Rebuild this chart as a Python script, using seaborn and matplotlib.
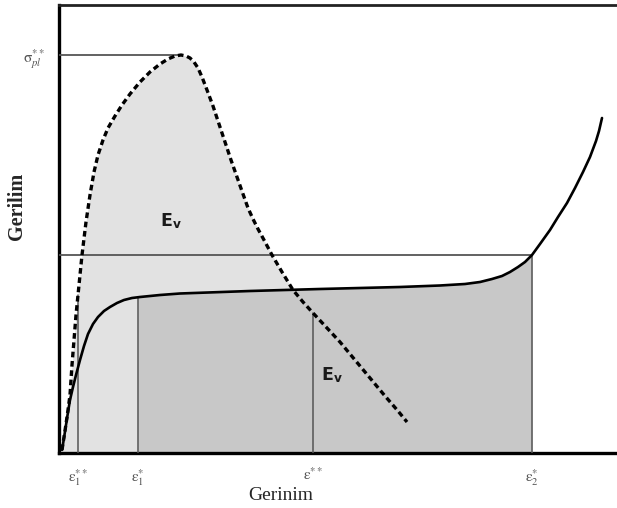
import numpy as np
import pandas as pd
import matplotlib
matplotlib.use("Agg")
import matplotlib.pyplot as plt
import seaborn as sns

# ---- data (arbitrary strain / stress units) ----
dashed_x = [3, 5, 7, 9, 11, 12, 13, 15, 17, 20, 23, 27, 31, 35, 39, 44, 49, 56, 63, 71,
            81, 91, 101, 109, 116, 122, 127, 131, 135, 139, 143, 148, 154, 160, 166, 172, 178,
            184, 189, 194, 199, 205, 213, 223, 234, 244, 254, 268, 281, 296, 311, 326, 339, 348]
dashed_y = [3, 16, 29, 43, 58, 73, 88, 113, 138, 168, 198, 231, 258, 281, 298, 313, 325, 337,
            348, 359, 371, 381, 389, 394, 397, 398, 397, 395, 391, 385, 376, 363, 347, 329, 311,
            293, 276, 259, 245, 234, 224, 213, 198, 181, 163, 151, 140, 125, 111, 93, 75, 57, 42, 31]
solid_x = [3, 5, 7, 9, 11, 14, 17, 21, 25, 29, 34, 39, 45, 51, 58, 65, 73, 81, 101, 121,
           191, 261, 341, 381, 406, 421, 433, 443, 451, 459, 466, 473, 481, 491, 499, 508,
           516, 524, 531, 537, 540, 543]
solid_y = [3, 15, 28, 41, 53, 66, 78, 93, 107, 119, 129, 136, 142, 146, 150, 153, 155, 156,
           158, 159.5, 162, 164, 166, 167.5, 169, 171, 174, 177, 181, 186, 191, 198, 209, 223,
           236, 250, 265, 281, 296, 312, 322, 335]

x_ticks = [19, 79, 254, 473]
x_tick_labels = [r"$\mathrm{\varepsilon}_1^{**}$", r"$\mathrm{\varepsilon}_1^{*}$",
                 r"$\mathrm{\varepsilon}^{**}$", r"$\mathrm{\varepsilon}_2^{*}$"]
y_ticks = [198, 398]
y_tick_labels = ["", r"$\mathrm{\sigma}_{pl}^{**}$"]
ev_label = r"E$_{\mathregular{v}}$"

sns.set_style("white")
plt.rcParams["mathtext.fontset"] = "stix"

fig = plt.figure(figsize=(6.17, 5.08), dpi=100)
ax = fig.add_axes([59 / 617, 55 / 508, 558 / 617, 448 / 508])

dx = np.array(dashed_x, float)
dy = np.array(dashed_y, float)
sx = np.array(solid_x, float)
sy = np.array(solid_y, float)
ipk = int(np.argmax(dy))

# light fill under dashed curve
ax.fill_between(dx, 0, dy, color="#e2e2e2", lw=0, zorder=1)
# darker fill under solid curve between eps1* and eps2*
x0, x1 = x_ticks[1], x_ticks[3]
mask = (sx > x0) & (sx < x1)
fx = np.concatenate([[x0], sx[mask], [x1]])
fy = np.concatenate([[np.interp(x0, sx, sy)], sy[mask], [np.interp(x1, sx, sy)]])
ax.fill_between(fx, 0, fy, color="#c8c8c8", lw=0, zorder=2)

# reference lines
ax.plot([0, x_ticks[3]], [y_ticks[0]] * 2, color="#555555", lw=1.3, zorder=3)
ax.plot([0, dx[ipk]], [y_ticks[1]] * 2, color="#555555", lw=1.3, zorder=3)
ax.plot([x_ticks[0]] * 2, [0, np.interp(x_ticks[0], dx[:ipk + 1], dy[:ipk + 1])],
        color="#555555", lw=1.1, zorder=3)
ax.plot([x_ticks[1]] * 2, [0, np.interp(x_ticks[1], sx, sy)], color="#555555", lw=1.1, zorder=3)
ax.plot([x_ticks[2]] * 2, [0, np.interp(x_ticks[2], dx[ipk:], dy[ipk:])],
        color="#555555", lw=1.1, zorder=3)
ax.plot([x_ticks[3]] * 2, [0, y_ticks[0]], color="#555555", lw=1.1, zorder=3)

df_s = pd.DataFrame({"x": sx, "y": sy})
df_d = pd.DataFrame({"x": dx, "y": dy})
sns.lineplot(data=df_s, x="x", y="y", sort=False, color="black", lw=1.9, ax=ax, zorder=5,
             solid_joinstyle="round")
sns.lineplot(data=df_d, x="x", y="y", sort=False, color="black", lw=2.4, ax=ax, zorder=6,
             linestyle=(0, (1.7, 1.1)), dash_joinstyle="round")

ax.text(101, 232, ev_label, fontsize=12.5, fontweight="semibold", color="#1a1a1a",
        ha="left", va="center", zorder=7)
ax.text(262, 78, ev_label, fontsize=12.5, fontweight="semibold", color="#1a1a1a",
        ha="left", va="center", zorder=7)

ax.set_xlim(0, 558)
ax.set_ylim(0, 448)
ax.set_xticks(x_ticks)
ax.set_xticklabels(x_tick_labels, fontsize=11, color="#555555")
ax.set_yticks(y_ticks)
ax.set_yticklabels(y_tick_labels, fontsize=11, color="#555555")
ax.tick_params(axis="both", direction="out", length=6, width=1.1, color="#444444", pad=4)

ax.set_xlabel("Gerinim", fontsize=14, family="Liberation Serif", labelpad=6)
ax.xaxis.set_label_coords(222 / 558, -0.075)
ax.set_ylabel("Gerilim", fontsize=14.5, family="Liberation Serif", fontweight="bold")
ax.yaxis.set_label_coords(-0.057, 0.55)

for side in ["left", "bottom"]:
    ax.spines[side].set_linewidth(2.4)
    ax.spines[side].set_color("black")
ax.spines["top"].set_linewidth(2.0)
ax.spines["top"].set_color("#222222")
ax.spines["right"].set_visible(False)

fig.savefig("out.png", dpi=100)
